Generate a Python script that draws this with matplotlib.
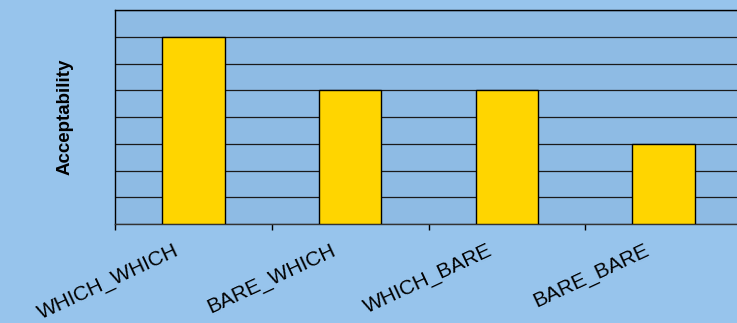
import matplotlib
matplotlib.use("Agg")
import matplotlib.pyplot as plt
import matplotlib.transforms as mtransforms
from matplotlib import font_manager

categories = ["WHICH_WHICH", "BARE_WHICH", "WHICH_BARE", "BARE_BARE"]
values = [7, 5, 5, 3]
y_max = 8

fig_bg = "#97C4EC"
ax_bg = "#8EBBE4"
bar_color = "#FFD500"

names = {f.name for f in font_manager.fontManager.ttflist}
narrow = "Liberation Sans Narrow" if "Liberation Sans Narrow" in names else "Liberation Sans"

fig = plt.figure(figsize=(7.37, 3.23), dpi=100, facecolor=fig_bg)
ax = fig.add_axes([115/737, 99/323, 627/737, 214/323], facecolor=ax_bg)

x = list(range(len(categories)))
ax.bar(x, values, width=0.40, color=bar_color, edgecolor="black", linewidth=1.0, zorder=3)

ax.set_xlim(-0.5, len(categories) - 0.5)
ax.set_ylim(0, y_max)
ax.set_yticks(range(0, y_max + 1))
ax.yaxis.grid(True, color="#1a1a1a", linewidth=0.9, zorder=0)
ax.tick_params(axis="y", length=0, labelleft=False)

ax.set_xticks(x)
ax.set_xticklabels(categories, rotation=25, ha="right", rotation_mode="anchor",
                   fontfamily="Liberation Sans", fontsize=15)
ax.tick_params(axis="x", which="major", length=0, pad=12)
offset = mtransforms.ScaledTranslation(-20/100, 0, fig.dpi_scale_trans)
for lbl in ax.get_xticklabels():
    lbl.set_transform(lbl.get_transform() + offset)
ax.set_xticks([i - 0.5 for i in range(len(categories))], minor=True)
ax.tick_params(axis="x", which="minor", length=4, width=1, direction="out", color="black")

for s in ["left", "top", "bottom"]:
    ax.spines[s].set_color("black")
    ax.spines[s].set_linewidth(1.0)
ax.spines["right"].set_visible(False)
ax.spines["bottom"].set_color("#333333")

ax.set_ylabel("Acceptability", fontfamily=narrow, fontweight="bold", fontsize=13.5, labelpad=30)

fig.savefig("out.png", dpi=100, facecolor=fig_bg)
